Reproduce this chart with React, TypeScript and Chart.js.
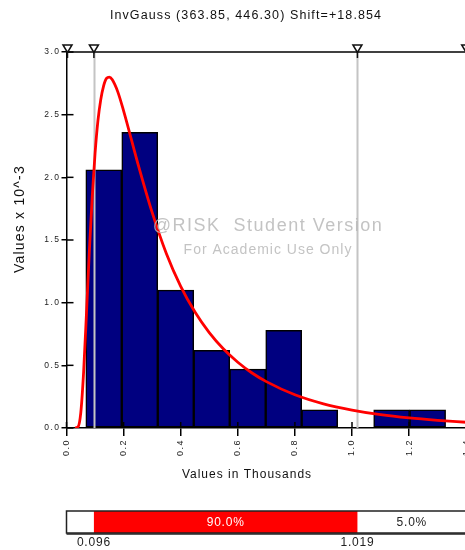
import React, { useEffect, useRef } from "react";
import { Chart, registerables } from "chart.js";
Chart.register(...registerables);

const titleText = "InvGauss (363.85, 446.30) Shift=+18.854";
const xTitle = "Values in Thousands";
const yTitle = "Values x 10^-3";
const binCenters = [0.1306, 0.2566, 0.3827, 0.5087, 0.6347, 0.7608, 0.8868, 1.0128, 1.1389, 1.2649];
const binHeights = [2.06, 2.36, 1.10, 0.62, 0.47, 0.78, 0.145, 0, 0.145, 0.145];
const curveX = [0.03, 0.04, 0.05, 0.06, 0.07, 0.08, 0.09, 0.10, 0.11, 0.12, 0.13, 0.14, 0.15, 0.16, 0.18, 0.20, 0.25, 0.30, 0.35, 0.40, 0.45, 0.50, 0.55, 0.60, 0.65, 0.70, 0.80, 0.90, 1.00, 1.10, 1.20, 1.30, 1.40];
const curveY = [0, 0.0075, 0.121, 0.448, 0.918, 1.41, 1.84, 2.19, 2.45, 2.62, 2.73, 2.79, 2.80, 2.78, 2.68, 2.53, 2.11, 1.72, 1.39, 1.13, 0.925, 0.761, 0.630, 0.525, 0.439, 0.370, 0.265, 0.193, 0.143, 0.106, 0.080, 0.061, 0.046];
const xTickValues = [0, 0.2, 0.4, 0.6, 0.8, 1.0, 1.2, 1.4];
const yTickValues = [0, 0.5, 1.0, 1.5, 2.0, 2.5, 3.0];
const delimiters = [0.096, 1.019];
const delimiterLabels = ["0.096", "1.019"];
const bandLabels = ["90.0%", "5.0%"];
const watermark1 = "@RISK  Student Version";
const watermark2 = "For Academic Use Only";

const FONT = '"Liberation Sans", Arial, sans-serif';

const overlay = {
  id: "overlay",
  beforeDraw(chart: any) {
    chart.ctx.letterSpacing = "1.5px";
  },
  afterDatasetDraw(chart: any, args: any) {
    if (args.index !== 0) return;
    const { ctx, chartArea: a, scales } = chart;
    const x = scales.x;
    ctx.save();
    ctx.strokeStyle = "#c4c4c4";
    ctx.lineWidth = 2;
    delimiters.forEach((d) => {
      const px = Math.round(x.getPixelForValue(d)) + 0.5;
      ctx.beginPath();
      ctx.moveTo(px, a.top);
      ctx.lineTo(px, a.bottom);
      ctx.stroke();
    });
    ctx.restore();
  },
  afterDatasetsDraw(chart: any) {
    const { ctx } = chart;
    ctx.save();
    ctx.textAlign = "center";
    ctx.textBaseline = "middle";
    ctx.fillStyle = "rgba(185,185,185,0.85)";
    ctx.letterSpacing = "1.5px";
    ctx.font = `18px ${FONT}`;
    ctx.fillText(watermark1, 268, 226);
    ctx.letterSpacing = "1px";
    ctx.font = `14px ${FONT}`;
    ctx.fillText(watermark2, 268, 250);
    ctx.restore();
  },
  afterDraw(chart: any) {
    const { ctx, chartArea: a, scales } = chart;
    const x = scales.x;
    const y = scales.y;
    ctx.save();
    ctx.strokeStyle = "#000";
    ctx.lineWidth = 1.5;
    y.ticks.forEach((t: any) => {
      const py = y.getPixelForValue(t.value);
      ctx.beginPath();
      ctx.moveTo(a.left, py);
      ctx.lineTo(a.left + 7, py);
      ctx.stroke();
    });
    x.ticks.forEach((t: any) => {
      const px = x.getPixelForValue(t.value);
      ctx.beginPath();
      ctx.moveTo(px, a.bottom);
      ctx.lineTo(px, a.bottom - 6);
      ctx.stroke();
    });
    ctx.beginPath();
    ctx.moveTo(a.left, a.top);
    ctx.lineTo(a.right, a.top);
    ctx.stroke();
    const triX = [a.left + 1, x.getPixelForValue(delimiters[0]), x.getPixelForValue(delimiters[1]), a.right];
    triX.forEach((px) => {
      ctx.beginPath();
      ctx.moveTo(px - 4.5, a.top - 7);
      ctx.lineTo(px + 4.5, a.top - 7);
      ctx.lineTo(px, a.top + 0.5);
      ctx.closePath();
      ctx.fillStyle = "#fff";
      ctx.fill();
      ctx.lineWidth = 1.5;
      ctx.strokeStyle = "#111";
      ctx.stroke();
      ctx.beginPath();
      ctx.moveTo(px, a.top);
      ctx.lineTo(px, a.top + 6);
      ctx.stroke();
    });

    ctx.fillStyle = "#111";
    ctx.textAlign = "center";
    ctx.textBaseline = "middle";
    ctx.letterSpacing = "1.1px";
    ctx.font = `12.5px ${FONT}`;
    ctx.fillText(titleText, 246, 16);
    ctx.letterSpacing = "1px";
    ctx.font = `12px ${FONT}`;
    ctx.fillText(xTitle, 247, 475);
    ctx.save();
    ctx.translate(20, 219);
    ctx.rotate(-Math.PI / 2);
    ctx.letterSpacing = "1.2px";
    ctx.font = `14px ${FONT}`;
    ctx.fillText(yTitle, 0, 0);
    ctx.restore();

    const barTop = 511;
    const barH = 22;
    const d0 = x.getPixelForValue(delimiters[0]);
    const d1 = x.getPixelForValue(delimiters[1]);
    ctx.fillStyle = "#fff";
    ctx.fillRect(a.left, barTop, a.right - a.left, barH);
    ctx.fillStyle = "#ff0000";
    ctx.fillRect(d0, barTop, d1 - d0, barH);
    ctx.strokeStyle = "#222";
    ctx.lineWidth = 1.5;
    ctx.strokeRect(a.left, barTop, a.right - a.left, barH);
    ctx.beginPath();
    ctx.moveTo(a.left, barTop + barH + 1);
    ctx.lineTo(a.right, barTop + barH + 1);
    ctx.stroke();
    ctx.letterSpacing = "0.8px";
    ctx.font = `12px ${FONT}`;
    ctx.fillStyle = "#fff";
    ctx.fillText(bandLabels[0], (d0 + d1) / 2, barTop + barH / 2 + 0.5);
    ctx.fillStyle = "#222";
    ctx.fillText(bandLabels[1], (d1 + a.right) / 2, barTop + barH / 2 + 0.5);
    ctx.fillText(delimiterLabels[0], d0, 543);
    ctx.fillText(delimiterLabels[1], d1, 543);
    ctx.restore();
  },
};

export default function App() {
  const ref = useRef<HTMLCanvasElement | null>(null);
  useEffect(() => {
    if (!ref.current) return;
    const chart = new Chart(ref.current, {
      type: "bar",
      data: {
        datasets: [
          {
            type: "bar",
            data: binCenters.map((c, i) => ({ x: c, y: binHeights[i] })),
            backgroundColor: "#000080",
            borderColor: "#000",
            borderWidth: 1.5,
            borderSkipped: false,
            barPercentage: 1,
            categoryPercentage: 1,
            order: 2,
          } as any,
          {
            type: "line",
            data: curveX.map((v, i) => ({ x: v, y: curveY[i] })),
            borderColor: "#ff0000",
            borderWidth: 2.8,
            pointRadius: 0,
            cubicInterpolationMode: "monotone",
            order: 1,
          } as any,
        ],
      },
      options: {
        responsive: false,
        animation: false,
        devicePixelRatio: 1,
        layout: { padding: { top: 52, right: 11.5, bottom: 0, left: 0 } },
        plugins: { legend: { display: false }, tooltip: { enabled: false }, title: { display: false } },
        scales: {
          x: {
            type: "linear",
            min: 0,
            max: 1.4,
            offset: false,
            afterFit: (s: any) => {
              s.height = 122;
            },
            afterBuildTicks: (s: any) => {
              s.ticks = xTickValues.map((v) => ({ value: v }));
            },
            border: { display: true, color: "#000", width: 1.5 },
            grid: { display: true, offset: false, drawOnChartArea: false, drawTicks: true, tickLength: 8, color: "#000", lineWidth: 1.5 },
            ticks: {
              autoSkip: false,
              minRotation: 90,
              maxRotation: 90,
              padding: 3,
              color: "#222",
              font: { family: FONT, size: 9 },
              callback: (v: any) => Number(v).toFixed(1),
            },
          },
          y: {
            type: "linear",
            min: 0,
            max: 3,
            afterFit: (s: any) => {
              s.width = 66.5;
            },
            afterBuildTicks: (s: any) => {
              s.ticks = yTickValues.map((v) => ({ value: v }));
            },
            border: { display: true, color: "#000", width: 1.5 },
            grid: { display: true, drawOnChartArea: false, drawTicks: true, tickLength: 5, color: "#000", lineWidth: 1.5 },
            ticks: {
              padding: 1,
              color: "#222",
              font: { family: FONT, size: 8.5 },
              callback: (v: any) => Number(v).toFixed(1),
            },
          },
        },
      } as any,
      plugins: [overlay],
    });
    return () => chart.destroy();
  }, []);
  return (
    <div style={{ position: "fixed", left: 0, top: 0, width: 465, height: 550, overflow: "hidden", background: "#fff" }}>
      <canvas ref={ref} width={480} height={550} style={{ display: "block", width: 480, height: 550 }} />
    </div>
  );
}
